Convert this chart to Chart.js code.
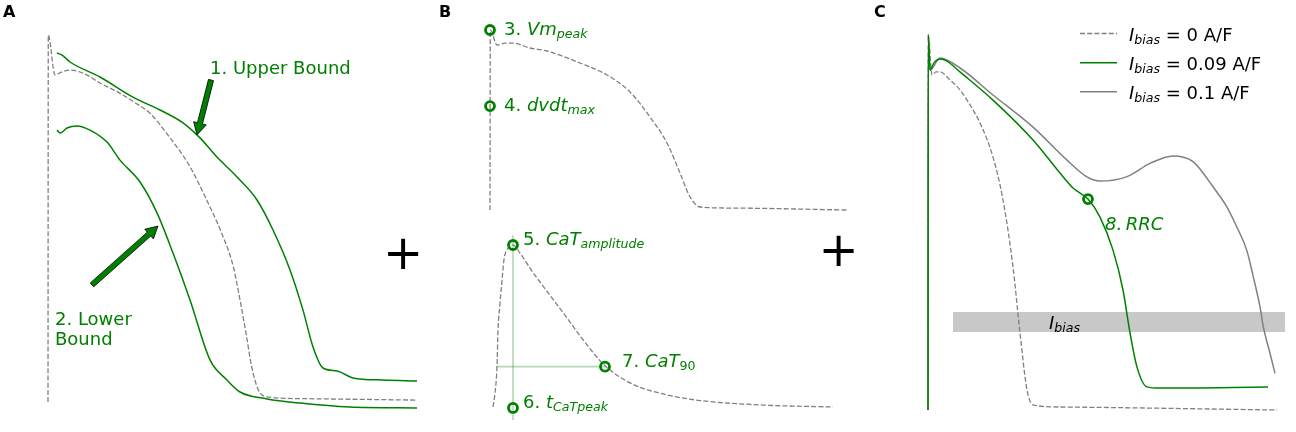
<!DOCTYPE html>
<html><head><meta charset="utf-8">
<script src="https://cdn.jsdelivr.net/npm/chart.js@4.4.1/dist/chart.umd.min.js"></script>
<style>
html,body{margin:0;padding:0;background:#fff;}
#wrap{position:relative;width:1296px;height:432px;overflow:hidden;font-family:'DejaVu Sans',sans-serif;background:#fff;}
canvas{position:absolute;left:0;top:0;}
.t{position:absolute;white-space:nowrap;line-height:22px;font-size:18px;color:#008000;}
.i{font-style:italic;}
.s{font-size:70%;vertical-align:-0.25em;line-height:0;}
.pl{position:absolute;font-weight:bold;font-size:16px;line-height:20px;color:#000;}
.plus{position:absolute;font-size:48px;line-height:48px;color:#000;}
.lg{position:absolute;font-size:18px;line-height:22px;color:#000;white-space:nowrap;}
</style></head>
<body>
<div id="wrap">
<canvas id="cA" width="1296" height="432"></canvas>
<canvas id="cB1" width="1296" height="432"></canvas>
<canvas id="cB2" width="1296" height="432"></canvas>
<canvas id="cC" width="1296" height="432"></canvas>
<svg style="position:absolute;left:0;top:0" width="1296" height="432">
  <line x1="1080" y1="33.5" x2="1117" y2="33.5" stroke="#808080" stroke-width="1.3" stroke-dasharray="5,2.2"/>
  <line x1="1080" y1="62.7" x2="1117" y2="62.7" stroke="#008000" stroke-width="1.5"/>
  <line x1="1080" y1="91.7" x2="1117" y2="91.7" stroke="#808080" stroke-width="1.5"/>
</svg>

<div class="pl" style="left:3px;top:1.6px">A</div>
<div class="pl" style="left:439px;top:1.6px">B</div>
<div class="pl" style="left:874px;top:1.6px">C</div>

<div class="t" style="left:210px;top:56.7px">1. Upper Bound</div>
<div class="t" style="left:55px;top:309.2px;line-height:20px">2. Lower<br>Bound</div>

<div class="t" style="left:504px;top:17.5px">3. <span class="i">Vm</span><span class="s i">peak</span></div>
<div class="t" style="left:504px;top:93.9px">4. <span class="i">dvdt</span><span class="s i">max</span></div>
<div class="t" style="left:523px;top:227.7px">5. <span class="i">CaT</span><span class="s i">amplitude</span></div>
<div class="t" style="left:523px;top:391.2px">6. <span class="i">t</span><span class="s i">CaTpeak</span></div>
<div class="t" style="left:622px;top:349.9px">7. <span class="i">CaT</span><span class="s">90</span></div>
<div class="t i" style="left:1105px;top:213px">8.&thinsp;RRC</div>
<div class="t" style="left:1049px;top:312.2px;color:#000"><span class="i">I</span><span class="s i">bias</span></div>

<div class="lg" style="left:1129px;top:24.4px"><span class="i">I</span><span class="s i">bias</span> = 0 A/F</div>
<div class="lg" style="left:1129px;top:52.9px"><span class="i">I</span><span class="s i">bias</span> = 0.09 A/F</div>
<div class="lg" style="left:1129px;top:81.9px"><span class="i">I</span><span class="s i">bias</span> = 0.1 A/F</div>

<div class="plus" style="left:383px;top:228px">+</div>
<div class="plus" style="left:818.5px;top:224.5px">+</div>
</div>

<script>
// ---------- Panel A: AP bounds (time ms, Vm mV) ----------
const aCtrlT  = [0,0.3,7,14,22,37,52,68.7,85.3,102,118.7,142,158.7,173.7,185.3,192,198,203.7,210.3,218.7,252,369];
const aCtrlV  = [-82.3,40,26.7,27.7,28.3,27,24,21.2,17.8,13.9,7.2,-3.9,-15,-26.1,-37.2,-48.3,-59.4,-70.6,-78.3,-80.6,-81.2,-81.7];
const aUpperT = [9,14,22,52,85,112,135,152,169,189,209,225,242,255,265,275,289,305,335,369];
const aUpperV = [34,33.3,31,26,19.3,15,10.7,5.7,-0.7,-7.3,-15,-25,-38.3,-51.7,-64,-71,-72,-74.3,-75,-75.3];
const aLowerT = [9,12,19,29,42,59,72,92,109,125,142,162,179,192,219,252,302,369];
const aLowerV = [8.3,7.3,9,9.7,8.3,4.3,-1.7,-9,-19.3,-32.7,-48.3,-68.3,-75,-79,-81.3,-82.7,-84,-84.3];

// ---------- Panel B: AP features ----------
const bApT = [0,0.3,7,15,23,40,57,90,117,140,160,177,190,200,210,240,357];
const bApV = [-80,40,30,31.3,31.3,28,26,18,10,-1.3,-18,-35.3,-55.3,-71.3,-78,-78.7,-80];
const bApMarkT = [0,0];
const bApMarkV = [40,-10.7];

// ---------- Panel B: calcium transient (normalised) ----------
const bCaT = [0,2,4,5,7,9,11,15,20,27,40,57,74,90,112,140,174,207,270,340];
const bCaV = [0,0.086,0.25,0.47,0.64,0.78,0.91,0.98,1.0,0.95,0.83,0.69,0.55,0.415,0.255,0.14,0.075,0.04,0.012,0];
const bCaMarkT = [20,112,20];
const bCaMarkV = [1.0,0.249,-0.006];
const bGuideVT = [20,20];
const bGuideVV = [1.062,-0.08];
const bGuideHT = [3,112];
const bGuideHV = [0.249,0.249];

// ---------- Panel C: Ibias ----------
const cCtrlT = [0,0.3,4,8,12,22,32,42,52,65,75,85,92,99,105,132,349];
const cCtrlV = [-85,40,26.7,27.7,27.7,25,21.7,16.7,10.7,-0.7,-15,-37.3,-59.3,-78.3,-83.3,-84,-85];
const cG09T  = [0,0.3,2,6,12,19,32,65,105,132,145,160,172,185,195,202,209,219,232,340];
const cG09V  = [-85,40,28.3,30.7,32,31.3,27.7,18.3,5,-6,-11,-14.7,-20.7,-31.7,-45,-59.3,-70.7,-77.3,-77.7,-77.3];
const cG10T  = [0,0.3,2,12,32,65,105,139,159,172,199,222,245,265,285,298.7,308.7,318.7,325.3,332,335.3,342,347];
const cG10V  = [-85,40,28.3,32.3,29,20,9.3,-1.7,-7.3,-8.7,-7.2,-2.8,-0.3,-2.2,-10.6,-17.2,-23.9,-31.7,-40.6,-50.6,-57.2,-66.1,-72.8];
const cRrcT = [160];
const cRrcV = [-14.7];
const cBandT = [25,357];
const cBandTop = [-52.3,-52.3];
const cBandBottom = -59;

// ---------- annotation arrows (panel A, data units) ----------
const aArrows = [
  {from:[163,25], to:[149,6.7]},
  {from:[44,-43.3], to:[110,-23.7]}
];

const GREEN = '#008000', GRAY = '#808080';
const DASH = [5,2.2];
const pts = (t,v) => t.map((x,i)=>({x:x,y:v[i]}));
const trace = (t,v,color,dash,w) => ({data:pts(t,v),showLine:true,borderColor:color,borderWidth:w||1.5,
  borderDash:dash||[],pointRadius:0,fill:false,cubicInterpolationMode:'monotone',clip:false});
const marks = (t,v) => ({data:pts(t,v),showLine:false,pointRadius:4.5,pointBorderWidth:2.8,
  pointBorderColor:GREEN,pointBackgroundColor:'rgba(0,0,0,0)',clip:false});

function make(id, pad, xr, yr, datasets, plugins){
  return new Chart(document.getElementById(id), {
    type:'scatter',
    data:{datasets:datasets},
    options:{
      responsive:false, animation:false, devicePixelRatio:1,
      layout:{padding:pad},
      plugins:{legend:{display:false},tooltip:{enabled:false}},
      scales:{
        x:{type:'linear',display:false,min:xr[0],max:xr[1]},
        y:{type:'linear',display:false,min:yr[0],max:yr[1]}
      },
      events:[]
    },
    plugins:plugins||[]
  });
}

const arrowPlugin = {
  id:'arrows',
  afterDatasetsDraw(chart){
    const {ctx, scales:{x,y}} = chart;
    aArrows.forEach(a=>{
      const x0=x.getPixelForValue(a.from[0]), y0=y.getPixelForValue(a.from[1]);
      const x1=x.getPixelForValue(a.to[0]), y1=y.getPixelForValue(a.to[1]);
      const L=Math.hypot(x1-x0,y1-y0), dx=(x1-x0)/L, dy=(y1-y0)/L, nx=-dy, ny=dx;
      const w=2.6, hw=6.5, hl=12;
      const bx=x1-dx*hl, by=y1-dy*hl;
      ctx.save();
      ctx.beginPath();
      ctx.moveTo(x0+nx*w,y0+ny*w);
      ctx.lineTo(bx+nx*w,by+ny*w);
      ctx.lineTo(bx+nx*hw,by+ny*hw);
      ctx.lineTo(x1,y1);
      ctx.lineTo(bx-nx*hw,by-ny*hw);
      ctx.lineTo(bx-nx*w,by-ny*w);
      ctx.lineTo(x0-nx*w,y0-ny*w);
      ctx.closePath();
      ctx.fillStyle=GREEN; ctx.fill();
      ctx.lineWidth=0.8; ctx.strokeStyle='#000'; ctx.stroke();
      ctx.restore();
    });
  }
};

// Panel A: area x 48..418, y 35..410
make('cA',{left:48,right:878,top:35,bottom:22},[0,370],[-85,40],[
  trace(aUpperT,aUpperV,GREEN),
  trace(aLowerT,aLowerV,GREEN),
  trace(aCtrlT,aCtrlV,GRAY,DASH,1.3)
],[arrowPlugin]);

// Panel B top: area x 490..847, y 30..210
make('cB1',{left:490,right:449,top:30,bottom:222},[0,357],[-80,40],[
  marks(bApMarkT,bApMarkV),
  trace(bApT,bApV,GRAY,DASH,1.3)
]);

// Panel B bottom: area x 493..833, y 245..407
make('cB2',{left:493,right:463,top:245,bottom:25},[0,340],[0,1],[
  marks(bCaMarkT,bCaMarkV),
  trace(bCaT,bCaV,GRAY,DASH,1.3),
  {data:pts(bGuideVT,bGuideVV),showLine:true,borderColor:'rgba(0,128,0,0.3)',borderWidth:1.6,pointRadius:0,clip:false},
  {data:pts(bGuideHT,bGuideHV),showLine:true,borderColor:'rgba(0,128,0,0.3)',borderWidth:1.6,pointRadius:0,clip:false}
]);

// Panel C: area x 928..1285, y 35..410
make('cC',{left:928,right:11,top:35,bottom:22},[0,357],[-85,40],[
  marks(cRrcT,cRrcV),
  trace(cG09T,cG09V,GREEN),
  trace(cG10T,cG10V,GRAY),
  trace(cCtrlT,cCtrlV,GRAY,DASH,1.3),
  {data:pts(cBandT,cBandTop),showLine:true,borderWidth:0,borderColor:'rgba(0,0,0,0)',
   backgroundColor:'#c8c8c8',fill:{value:cBandBottom},pointRadius:0}
]);
</script>
</body></html>
